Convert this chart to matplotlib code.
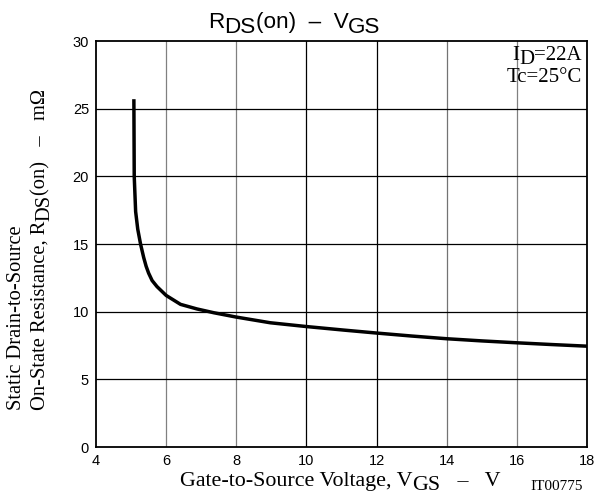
import matplotlib.pyplot as plt

# gate-source voltage (V) and on-resistance (mOhm)
vgs = [5.08, 5.09, 5.13, 5.19, 5.27, 5.36, 5.43, 5.50, 5.60, 5.74, 6.0, 6.41,
       6.88, 7.36, 8.0, 8.97, 10, 11.06, 12, 13, 14, 15, 16, 17, 18]
rds = [25.7, 20.0, 17.4, 16.1, 15.0, 14.0, 13.35, 12.85, 12.3, 11.85, 11.2, 10.54,
       10.2, 9.92, 9.6, 9.18, 8.9, 8.64, 8.42, 8.2, 8.0, 7.84, 7.7, 7.57, 7.45]

xticks = [4, 6, 8, 10, 12, 14, 16, 18]
yticks = [0, 5, 10, 15, 20, 25, 30]

W, H = 606, 494
SANS = 'Liberation Sans'
SERIF = 'Liberation Serif'

fig = plt.figure(figsize=(W / 100, H / 100), dpi=100)
ax = fig.add_axes([96 / W, 1 - 447 / H, (587 - 96) / W, (447 - 41) / H])

ax.plot(vgs, rds, color='black', lw=2.5, solid_capstyle='butt', solid_joinstyle='round')
ax.set_xlim(4, 18)
ax.set_ylim(0, 30)
ax.set_xticks(xticks)
ax.set_yticks(yticks)
ax.tick_params(length=0, pad=5, labelsize=10.5)
for lab in ax.get_xticklabels() + ax.get_yticklabels():
    lab.set_fontfamily(SANS)

# grid: some verticals look grey in the original
vcol = {6: '0.5', 8: '0.5', 10: 'black', 12: 'black', 14: '0.45', 16: '0.5'}
for x in xticks[1:-1]:
    ax.axvline(x, color=vcol[x], lw=0.9, zorder=0)
for y in yticks[1:-1]:
    ax.axhline(y, color='black', lw=0.9, zorder=0)
for s in ax.spines.values():
    s.set_linewidth(1.3)


def px(x, y):
    return x / W, 1 - y / H


def line(parts, x, y, size, family, rot=0, drop=3.5):
    # text pieces one after another, subscripts dropped below the baseline
    txt, sub = parts[0]
    last = fig.text(*px(x, y), txt, fontsize=size, family=family,
                    rotation=rot, ha='left' if rot == 0 else 'right',
                    va='baseline' if rot == 0 else 'bottom')
    prev_sub = sub
    for txt, sub in parts[1:]:
        d = (drop if sub else 0) - (drop if prev_sub else 0)
        if rot == 0:
            last = ax.annotate(txt, xy=(1, 0), xycoords=last,
                               xytext=(0, -d), textcoords='offset points',
                               fontsize=size, family=family,
                               ha='left', va='bottom', annotation_clip=False)
        else:
            last = ax.annotate(txt, xy=(1, 1), xycoords=last,
                               xytext=(d, 0), textcoords='offset points',
                               fontsize=size, family=family, rotation=90,
                               ha='right', va='bottom', annotation_clip=False)
        prev_sub = sub


# title
line([('R', False), ('DS', True), ('(on)  \u2013  V', False), ('GS', True)],
     208, 28, 16.2, SANS)

# axis labels
line([('Gate-to-Source Voltage, V', False), ('GS', True), ('   \u2013   V', False)],
     180, 486, 15.8, SERIF, drop=3.2)
fig.text(*px(26, 410), 'Static Drain-to-Source', fontsize=14.8, family=SERIF,
         rotation=90, ha='right', va='bottom')
line([('On-State Resistance, R', False), ('DS', True), ('(on)   \u2013   m\u03a9', False)],
     50, 410, 14.8, SERIF, rot=90)

# conditions
fig.text(*px(582, 82), 'Tc=25\u00b0C', fontsize=15, family=SERIF, ha='right', va='baseline')
eq = fig.text(*px(582, 60), '=22A', fontsize=15, family=SERIF, ha='right', va='baseline')
dd = ax.annotate('D', xy=(0, 0), xycoords=eq, xytext=(0, -3), textcoords='offset points',
                 fontsize=15, family=SERIF, ha='right', va='bottom', annotation_clip=False)
ax.annotate('I', xy=(0, 0), xycoords=dd, xytext=(0, 3), textcoords='offset points',
            fontsize=15, family=SERIF, ha='right', va='bottom', annotation_clip=False)

fig.text(*px(530, 490), 'IT00775', fontsize=11, family=SERIF, ha='left', va='baseline')

fig.savefig('out.png', dpi=100)
